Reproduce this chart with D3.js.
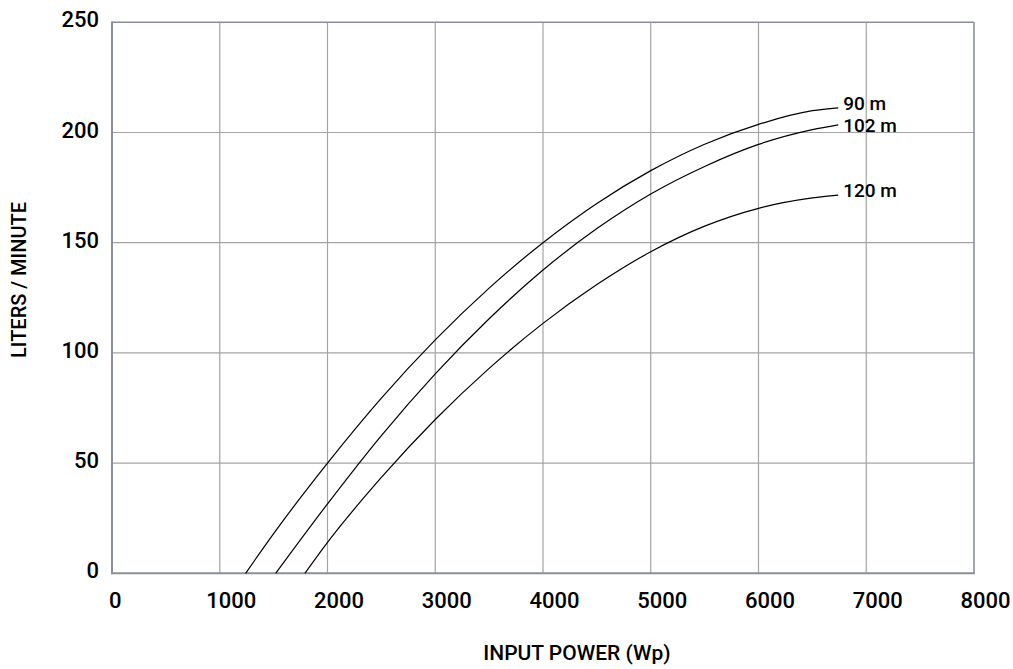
<!DOCTYPE html>
<html>
<head>
<meta charset="utf-8">
<script src="https://cdn.jsdelivr.net/npm/d3@7"></script>
<style>
  html, body { margin: 0; padding: 0; background: #fff; }
  svg { display: block; }
  text { font-family: Roboto, "Liberation Sans", Arial, sans-serif; fill: #000; }
</style>
</head>
<body>
<svg id="chart" width="1013" height="669"></svg>
<script>
// ---- data ----
const xTickValues = [0, 1000, 2000, 3000, 4000, 5000, 6000, 7000, 8000];
const yTickValues = [0, 50, 100, 150, 200, 250];
const seriesNames = ["90 m", "102 m", "120 m"];

const power90  = [1240, 1500, 2000, 2500, 3000, 3500, 4000, 4500, 5000, 5500, 6000, 6500, 6740];
const flow90   = [0, 18, 50, 79.5, 105.9, 129.4, 150, 167.8, 182.7, 194.7, 203.7, 209.9, 211.2];

const power102 = [1519, 2000, 2500, 3000, 3500, 4000, 4500, 5000, 5500, 6000, 6500, 6740];
const flow102  = [0, 31.5, 62.5, 90.5, 115.5, 137.6, 156.4, 172.1, 184.6, 194.6, 201.3, 203.5];

const power120 = [1791, 2000, 2500, 3000, 3500, 4000, 4500, 5000, 5500, 6000, 6500, 6740];
const flow120  = [0, 14, 43.5, 69.8, 93, 113.4, 131, 145.9, 157.5, 165.6, 170.3, 171.6];

const xLabel = "INPUT POWER (Wp)";
const yLabel = "LITERS / MINUTE";

// ---- layout ----
(function () {
const svg = d3.select("#chart");
const mLeft = 112, mRight = 974, mTop = 22.3, mBottom = 573.3;
const FONT = "Roboto, 'Liberation Sans', Arial, sans-serif";

const x = d3.scaleLinear().domain([0, 8000]).range([mLeft, mRight]);
const y = d3.scaleLinear().domain([0, 250]).range([mBottom, mTop]);

const gridColor = "#a3a3a3";
const frameColor = "#8b9098";

// grid lines
const g = svg.append("g");
g.selectAll("line.vg").data(xTickValues.filter(v => v > 0 && v < 8000)).enter()
  .append("line").attr("class", "vg")
  .attr("x1", d => x(d)).attr("x2", d => x(d))
  .attr("y1", y(250)).attr("y2", y(0))
  .attr("stroke", gridColor).attr("stroke-width", 1.2);
g.selectAll("line.hg").data(yTickValues.filter(v => v > 0 && v < 250)).enter()
  .append("line").attr("class", "hg")
  .attr("x1", x(0)).attr("x2", x(8000))
  .attr("y1", d => y(d)).attr("y2", d => y(d))
  .attr("stroke", gridColor).attr("stroke-width", 1.2);

// frame
svg.append("line").attr("x1", x(0)).attr("x2", x(8000)).attr("y1", y(250)).attr("y2", y(250))
  .attr("stroke", frameColor).attr("stroke-width", 1.6);
svg.append("line").attr("x1", x(8000)).attr("x2", x(8000)).attr("y1", y(250)).attr("y2", y(0))
  .attr("stroke", frameColor).attr("stroke-width", 1.6);
svg.append("line").attr("x1", x(0)).attr("x2", x(0)).attr("y1", y(250) - 0.8).attr("y2", y(0) + 1)
  .attr("stroke", frameColor).attr("stroke-width", 2);
svg.append("line").attr("x1", x(0) - 1).attr("x2", x(8000) + 0.8).attr("y1", y(0)).attr("y2", y(0))
  .attr("stroke", frameColor).attr("stroke-width", 2);

// axes tick labels via d3 axes (domain/ticks hidden)
const xAxis = d3.axisBottom(x).tickValues(xTickValues).tickSize(0).tickPadding(0).tickFormat(d3.format("d"));
const xg = svg.append("g").attr("transform", `translate(0, ${mBottom})`).call(xAxis);
xg.select(".domain").remove();
xg.selectAll("text")
  .attr("y", 0).attr("dy", null)
  .attr("font-family", FONT)
  .attr("font-size", 22).attr("font-weight", 500)
  .attr("fill", "#000")
  .attr("transform", "translate(0,34.8)")
  .each(function() {
    const w = this.getComputedTextLength();
    d3.select(this).attr("dx", 0.22 * w);
  });

const yAxis = d3.axisLeft(y).tickValues(yTickValues).tickSize(0).tickPadding(0).tickFormat(d3.format("d"));
const yg = svg.append("g").attr("transform", `translate(${mLeft - 13}, 0)`).call(yAxis);
yg.select(".domain").remove();
yg.selectAll("text")
  .attr("x", 0).attr("dy", null)
  .attr("font-family", FONT)
  .attr("font-size", 22).attr("font-weight", 500)
  .attr("fill", "#000")
  .attr("transform", "translate(0,4.5)");

// curves
const series = [
  { name: seriesNames[0], p: power90, f: flow90 },
  { name: seriesNames[1], p: power102, f: flow102 },
  { name: seriesNames[2], p: power120, f: flow120 }
];
const line = d3.line().x(d => x(d[0])).y(d => y(d[1])).curve(d3.curveMonotoneX);

series.forEach((s, i) => {
  const pts = s.p.map((v, k) => [v, s.f[k]]);
  svg.append("path").datum(pts).attr("d", line)
    .attr("fill", "none").attr("stroke", "#000").attr("stroke-width", 1.2);
  const last = pts[pts.length - 1];
  const dyOff = [2, 7, 2][i];
  svg.append("text")
    .attr("x", x(last[0]) + 5)
    .attr("y", y(last[1]) + dyOff)
    .attr("font-family", FONT)
    .attr("font-size", 19).attr("font-weight", 500)
    .text(s.name);
});

// axis titles
svg.append("text")
  .attr("x", 577).attr("y", 660)
  .attr("text-anchor", "middle")
  .attr("font-family", FONT)
  .attr("font-size", 21).attr("font-weight", 500)
  .text(xLabel);

svg.append("text")
  .attr("transform", "translate(26,280) rotate(-90)")
  .attr("text-anchor", "middle")
  .attr("font-family", FONT)
  .attr("font-size", 20).attr("font-weight", 500)
  .text(yLabel);
})();
</script>
</body>
</html>
